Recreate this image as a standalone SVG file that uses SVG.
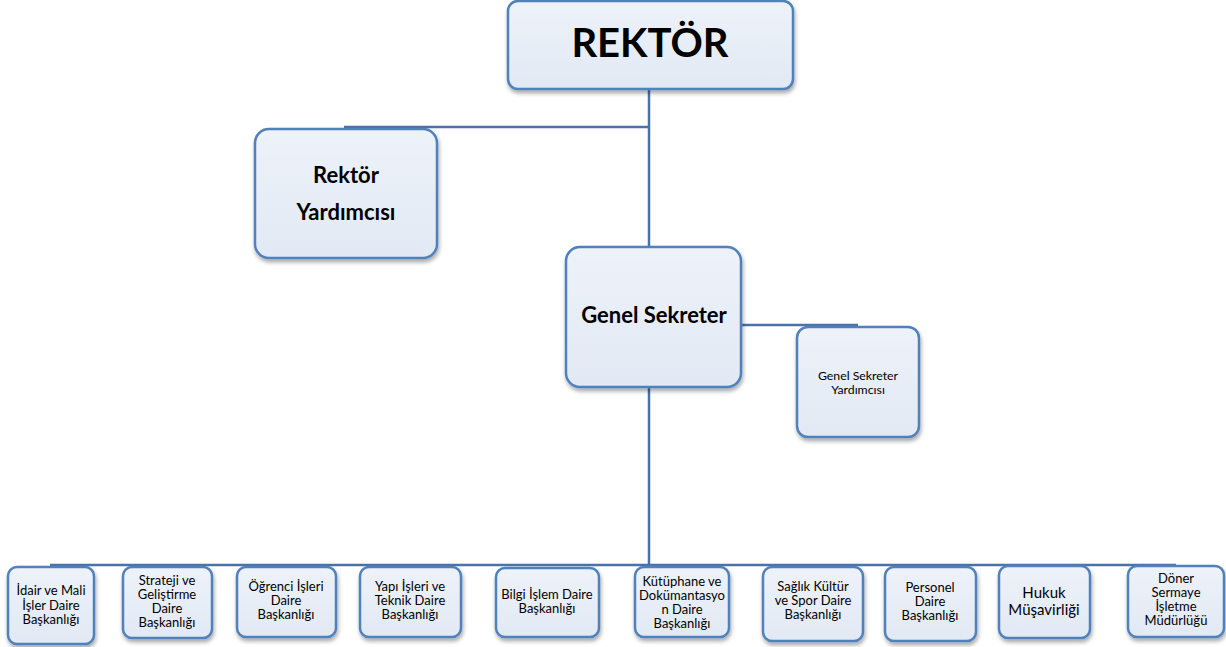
<svg xmlns="http://www.w3.org/2000/svg" width="1226" height="647" viewBox="0 0 1226 647">
<defs>
<linearGradient id="g" x1="0" y1="0" x2="0" y2="1">
<stop offset="0" stop-color="#eef2f9"/>
<stop offset="1" stop-color="#e1e9f4"/>
</linearGradient>
<filter id="sh" x="-20%" y="-20%" width="140%" height="140%">
<feGaussianBlur in="SourceAlpha" stdDeviation="2"/>
<feOffset dx="1" dy="3" result="b"/>
<feComponentTransfer><feFuncA type="linear" slope="0.35"/></feComponentTransfer>
<feMerge><feMergeNode/><feMergeNode in="SourceGraphic"/></feMerge>
</filter>
</defs>
<style>
.box{fill:url(#g);stroke:#4f81bd;stroke-width:2.5;filter:url(#sh)}
.ln{stroke:#4a72a8;stroke-width:2.5;fill:none}
text{font-family:Lato,"Open Sans","Liberation Sans",sans-serif;fill:#000;text-anchor:middle}
.b{font-weight:bold}
.s{font-size:13px}
</style>
<rect width="1226" height="647" fill="#fff"/>
<g id="connectors">
<path class="ln" d="M649 88V565"/>
<path class="ln" d="M344 127H649"/>
<path class="ln" d="M741 325H858"/>
<path class="ln" d="M50 565H1176"/>
</g>
<g id="rektor">
<rect class="box" x="508" y="1" width="285" height="88" rx="10"/>
<text class="b" x="650" y="57" font-size="40">REKTÖR</text>
</g>
<g id="rektor-yardimcisi">
<rect class="box" x="255" y="129" width="182" height="129" rx="14"/>
<text class="b" x="346" y="183" font-size="22">Rektör</text>
<text class="b" x="346" y="220" font-size="22">Yardımcısı</text>
</g>
<g id="genel-sekreter">
<rect class="box" x="566" y="247" width="175" height="140" rx="14"/>
<text class="b" x="654" y="323" font-size="22">Genel Sekreter</text>
</g>
<g id="gs-yardimcisi">
<rect class="box" x="797" y="327" width="122" height="110" rx="11"/>
<text x="858" y="380" font-size="12.3">Genel Sekreter</text>
<text x="858" y="394" font-size="12.3">Yardımcısı</text>
</g>
<g id="idari-mali">
<rect class="box" x="8" y="567" width="86" height="77" rx="9"/>
<text class="s" x="51" y="595">İdair ve Mali</text>
<text class="s" x="51" y="610">İşler Daire</text>
<text class="s" x="51" y="624">Başkanlığı</text>
</g>
<g id="strateji">
<rect class="box" x="123" y="567" width="89" height="71" rx="9"/>
<text class="s" x="167" y="585">Strateji ve</text>
<text class="s" x="167" y="599">Geliştirme</text>
<text class="s" x="167" y="613">Daire</text>
<text class="s" x="167" y="627">Başkanlığı</text>
</g>
<g id="ogrenci">
<rect class="box" x="237" y="567" width="99" height="70" rx="9"/>
<text class="s" x="286" y="591">Öğrenci İşleri</text>
<text class="s" x="286" y="605">Daire</text>
<text class="s" x="286" y="619">Başkanlığı</text>
</g>
<g id="yapi">
<rect class="box" x="360" y="567" width="101" height="70" rx="9"/>
<text class="s" x="410" y="591">Yapı İşleri ve</text>
<text class="s" x="410" y="605">Teknik Daire</text>
<text class="s" x="410" y="619">Başkanlığı</text>
</g>
<g id="bilgi">
<rect class="box" x="496" y="568" width="103" height="69" rx="9"/>
<text class="s" x="547" y="599">Bilgi İşlem Daire</text>
<text class="s" x="547" y="613">Başkanlığı</text>
</g>
<g id="kutuphane">
<rect class="box" x="635" y="567" width="94" height="70" rx="9"/>
<text class="s" x="682" y="586">Kütüphane ve</text>
<text class="s" x="682" y="600">Dokümantasyo</text>
<text class="s" x="682" y="614">n Daire</text>
<text class="s" x="682" y="628">Başkanlığı</text>
</g>
<g id="saglik">
<rect class="box" x="763" y="567" width="100" height="74" rx="9"/>
<text class="s" x="813" y="591">Sağlık Kültür</text>
<text class="s" x="813" y="605">ve Spor Daire</text>
<text class="s" x="813" y="619">Başkanlığı</text>
</g>
<g id="personel">
<rect class="box" x="885" y="567" width="91" height="74" rx="9"/>
<text class="s" x="930" y="592">Personel</text>
<text class="s" x="930" y="606">Daire</text>
<text class="s" x="930" y="620">Başkanlığı</text>
</g>
<g id="hukuk">
<rect class="box" x="999" y="566" width="91" height="72" rx="9"/>
<text x="1044" y="598" font-size="15">Hukuk</text>
<text x="1044" y="615" font-size="15">Müşavirliği</text>
</g>
<g id="doner">
<rect class="box" x="1128" y="566" width="96" height="71" rx="9"/>
<text class="s" x="1176" y="583">Döner</text>
<text class="s" x="1176" y="597">Sermaye</text>
<text class="s" x="1176" y="611">İşletme</text>
<text class="s" x="1176" y="625">Müdürlüğü</text>
</g>
</svg>
